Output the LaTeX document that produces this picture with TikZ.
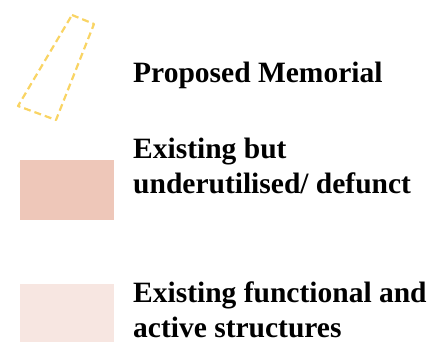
\documentclass[tikz,border=0pt]{standalone}
\usepackage{fontspec}
\setmainfont{Liberation Serif}
\usetikzlibrary{positioning}
\definecolor{memorialyellow}{RGB}{249,212,100}
\definecolor{defunctpink}{RGB}{238,199,185}
\definecolor{activepink}{RGB}{247,230,225}
\tikzset{
    % legend label text (base = baseline of last line)
    legendlabel/.style={
        anchor=base west, align=left, inner sep=0pt,
        font=\fontsize{29.5}{35}\selectfont\bfseries
    },
    % dashed outline of the memorial site
    memorialoutline/.style={
        draw=memorialyellow, line width=2.2pt,
        dash pattern=on 7pt off 4pt, line join=round
    },
}

\begin{document}
\begin{tikzpicture}[x=1pt,y=-1pt]
  \useasboundingbox (0,0) rectangle (438,342);

  % --- proposed memorial ---
  \draw[memorialoutline] (72,15) -- (94,24) -- (56,120) -- (18,106) -- cycle;
  \node[legendlabel] (memorial) at (133,82) {Proposed Memorial};

  % --- existing but defunct ---
  \fill[defunctpink] (20,160) rectangle (114,220);
  \node[legendlabel] (defunct) at (133,193) {Existing but\\underutilised/ defunct};

  % --- existing and active ---
  \fill[activepink] (20,284) rectangle (114,342);
  \node[legendlabel] (active) at (133,337) {Existing functional and\\active structures};
\end{tikzpicture}
\end{document}
